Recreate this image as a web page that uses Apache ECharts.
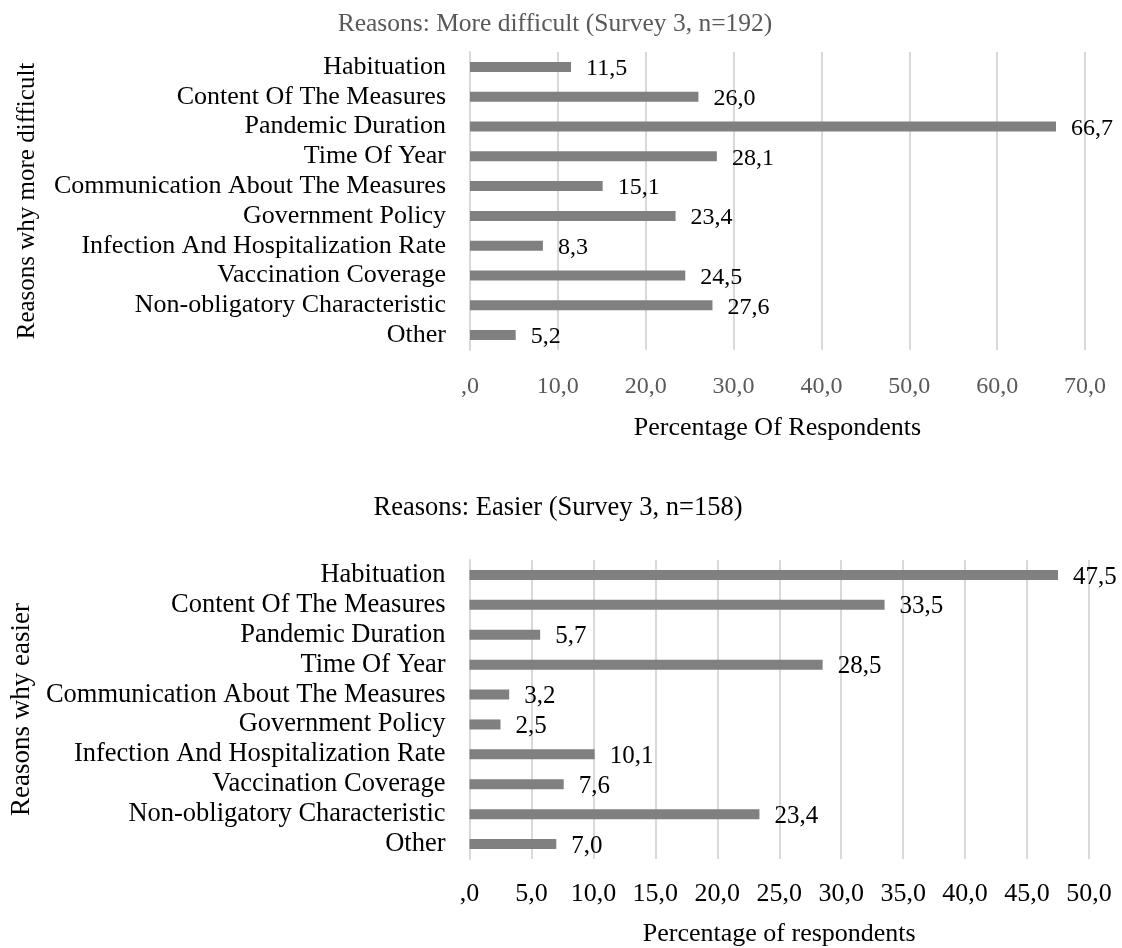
<!DOCTYPE html>
<html>
<head>
<meta charset="utf-8">
<script src="https://cdn.jsdelivr.net/npm/echarts@6/dist/echarts.min.js"></script>
<style>
  html, body { margin: 0; padding: 0; background: #ffffff; }
  #chart { width: 1122px; height: 948px; }
</style>
</head>
<body>
<div id="chart"></div>
<script>
// Reasons given by respondents (Survey 3), percentage of respondents per reason
const categories = [
  'Habituation',
  'Content Of The Measures',
  'Pandemic Duration',
  'Time Of Year',
  'Communication About The Measures',
  'Government Policy',
  'Infection And Hospitalization Rate',
  'Vaccination Coverage',
  'Non-obligatory Characteristic',
  'Other'
];
const moreDifficult = [11.5, 26.0, 66.7, 28.1, 15.1, 23.4, 8.3, 24.5, 27.6, 5.2];
const easier = [47.5, 33.5, 5.7, 28.5, 3.2, 2.5, 10.1, 7.6, 23.4, 7.0];

const titleTop = 'Reasons: More difficult (Survey 3, n=192)';
const titleBottom = 'Reasons: Easier (Survey 3, n=158)';
const xNameTop = 'Percentage Of Respondents';
const xNameBottom = 'Percentage of respondents';
const yNameTop = 'Reasons why more difficult';
const yNameBottom = 'Reasons why easier';

const FONT = '"Liberation Serif", "Times New Roman", serif';
const BAR = '#808080';
const GRID = '#d9d9d9';

// decimal comma, with zero shown as ",0"
function fmt(v) {
  if (v === 0) return ',0';
  return Number(v).toFixed(1).replace('.', ',');
}

const chart = echarts.init(document.getElementById('chart'), null, { renderer: 'canvas' });

function valueAxis(gridIndex, max, interval, name, tickColor, tickSize, labelMargin, nameGap) {
  return {
    type: 'value', gridIndex, min: 0, max, interval,
    name, nameLocation: 'middle', nameGap,
    nameTextStyle: { fontFamily: FONT, fontSize: 26, color: '#000' },
    axisLine: { show: false }, axisTick: { show: false },
    splitLine: { show: true, lineStyle: { color: GRID, width: 2 } },
    axisLabel: { formatter: fmt, fontFamily: FONT, fontSize: tickSize, color: tickColor, margin: labelMargin }
  };
}

function categoryAxis(gridIndex, name, nameSize, labelSize, nameGap) {
  return {
    type: 'category', gridIndex, data: categories, inverse: true,
    name, nameLocation: 'middle', nameGap,
    nameTextStyle: { fontFamily: FONT, fontSize: nameSize, color: '#000' },
    axisLine: { show: true, lineStyle: { color: GRID, width: 2 } },
    axisTick: { show: false },
    axisLabel: { fontFamily: FONT, fontSize: labelSize, color: '#000', margin: 24, interval: 0 }
  };
}

function barSeries(idx, data, labelSize) {
  return {
    type: 'bar', xAxisIndex: idx, yAxisIndex: idx, data,
    barWidth: 10,
    itemStyle: { color: BAR },
    label: {
      show: true, position: 'right', distance: 15,
      formatter: p => fmt(p.value),
      fontFamily: FONT, fontSize: labelSize, color: '#000', offset: [0, 2]
    },
    silent: true, animation: false
  };
}

chart.setOption({
  animation: false,
  title: [
    { text: titleTop, left: 550, top: 6, textAlign: 'center',
      textStyle: { fontFamily: FONT, fontSize: 25.5, fontWeight: 'normal', color: '#595959' } },
    { text: titleBottom, left: 553, top: 490, textAlign: 'center',
      textStyle: { fontFamily: FONT, fontSize: 26.5, fontWeight: 'normal', color: '#000' } }
  ],
  grid: [
    { left: 470, width: 615, top: 52, height: 298 },
    { left: 464, width: 625, top: 560, height: 303 }
  ],
  xAxis: [
    valueAxis(0, 70, 10, xNameTop, '#595959', 24, 25, 65),
    valueAxis(1, 50, 5, xNameBottom, '#000', 26, 22, 62)
  ],
  yAxis: [
    categoryAxis(0, yNameTop, 25, 26, 430),
    categoryAxis(1, yNameBottom, 27, 26.5, 424)
  ],
  series: [
    barSeries(0, moreDifficult, 24),
    barSeries(1, easier, 25)
  ]
});
</script>
</body>
</html>
